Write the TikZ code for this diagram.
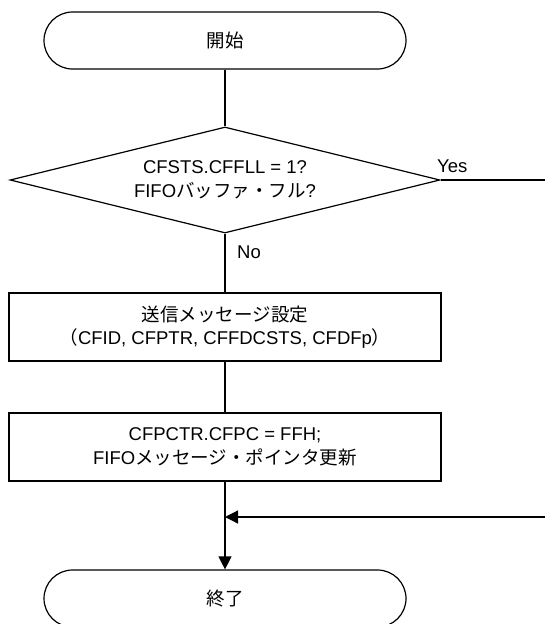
\documentclass[tikz,border=0pt]{standalone}
\usepackage{fontspec}
\setmainfont{Liberation Sans}
\newfontfamily\jp{Noto Sans CJK JP}
\usetikzlibrary{shapes.geometric,arrows.meta}

\tikzset{
  flow/.style={line width=1.2pt, draw=black},
  terminal/.style={flow, minimum width=362pt, minimum height=57pt,
    rounded corners=28.5pt, inner sep=0pt},
  process/.style={flow, minimum width=432pt, minimum height=68pt,
    inner sep=0pt, align=center},
  decision/.style={flow, diamond, minimum width=430pt, minimum height=106pt,
    aspect=4.06, inner sep=0pt, align=center},
  conn/.style={line width=1.2pt},
  arr/.style={conn, -{Triangle[length=13pt,width=13pt]}},
  lbl/.style={inner sep=0pt, anchor=base west},
}

\begin{document}
\begin{tikzpicture}[x=1pt, y=-1pt, font=\fontsize{18.5}{23.5}\selectfont]
\useasboundingbox (0,0) rectangle (544,624);

% shapes of the flow
\node[terminal] (start) at (225,40.5) {\jp 開始};
\node[decision] (dec) at (225,180) {CFSTS.CFFLL = 1?\\FIFO{\jp バッファ・フル}?};
\node[process] (set) at (225,327) {{\jp 送信メッセージ設定}\\{\jp （}CFID, CFPTR, CFFDCSTS, CFDFp{\jp ）}};
\node[process] (upd) at (225,447) {CFPCTR.CFPC = FFH;\\FIFO{\jp メッセージ・ポインタ更新}};
\node[terminal] (finish) at (225,598.5) {\jp 終了};

% branch labels
\node[lbl] (yes) at (437,172) {Yes};
\node[lbl] (no) at (237,258) {No};

% junction where the Yes branch rejoins
\coordinate (join) at (225,517);
\coordinate (corner) at (546,180);

% connectors
\draw[conn] (start.south) -- (dec.north);
\draw[conn] (dec.south) -- (set.north);
\draw[conn] (set.south) -- (upd.north);
\draw[arr] (upd.south) -- (finish.north);
\draw[conn] (dec.east) -- (corner);
\draw[arr] (corner) |- (join);
\end{tikzpicture}
\end{document}
